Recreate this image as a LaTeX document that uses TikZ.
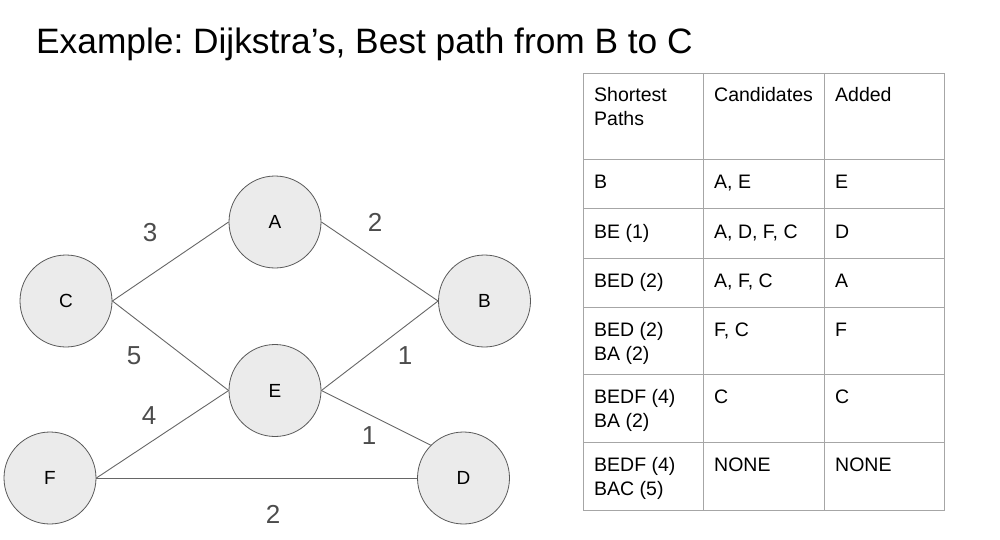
\documentclass[tikz,border=0pt]{standalone}
\usepackage{fontspec}
\setmainfont{Liberation Sans}
\begin{document}
\frenchspacing
\begin{tikzpicture}[x=1pt,y=-1pt,
  vertex/.style={circle, draw=black!65, fill=black!8, line width=0.8pt, minimum size=92pt, inner sep=0pt, font=\fontsize{19}{19}\selectfont},
  edge/.style={draw=black!60, line width=0.9pt},
  weight/.style={text=black!70, font=\fontsize{26}{26}\selectfont, inner sep=0pt},
  grid/.style={draw=black!35, line width=0.9pt},
  cell/.style={anchor=base west, inner sep=0pt, font=\fontsize{19.5}{19.5}\selectfont}
]
\useasboundingbox (0,0) rectangle (1000,540);
\node[anchor=base west, inner sep=0pt, font=\fontsize{35.3}{35.3}\selectfont] (title) at (36,53.5) {Example: Dijkstra’s, Best path from B to C};

% vertices
\node[vertex] (A) at (275,222) {A};
\node[vertex] (B) at (484.5,301) {B};
\node[vertex] (C) at (66,301) {C};
\node[vertex] (E) at (275,390.5) {E};
\node[vertex] (F) at (50,478) {F};
\node[vertex] (D) at (463.5,478) {D};

% edges
\draw[edge] (C.east) -- (A.west);
\draw[edge] (C.east) -- (E.west);
\draw[edge] (A.east) -- (B.west);
\draw[edge] (E.east) -- (B.west);
\draw[edge] (E.east) -- (D.north west);
\draw[edge] (F.east) -- (E.west);
\draw[edge] (F.east) -- (D.west);

% weights
\node[weight] (w1) at (150,233) {3};
\node[weight] (w2) at (375,222) {2};
\node[weight] (w3) at (134,356) {5};
\node[weight] (w4) at (405,356) {1};
\node[weight] (w5) at (149,416) {4};
\node[weight] (w6) at (369,436) {1};
\node[weight] (w7) at (273,514) {2};

% table grid
\draw[grid] (583,73) rectangle (944,510);
\foreach \yy in {159,208,258,307,374,442} \draw[grid] (583,\yy) -- (944,\yy);
\foreach \xx in {703,824} \draw[grid] (\xx,73) -- (\xx,510);

% table text
\node[cell] (h1) at (594,102) {Shortest};
\node[cell] (h1b) at (594,126) {Paths};
\node[cell] (h2) at (714,102) {Candidates};
\node[cell] (h3) at (835,102) {Added};

\node[cell] (r1a) at (594,189) {B};
\node[cell] (r1b) at (714,189) {A, E};
\node[cell] (r1c) at (835,189) {E};

\node[cell] (r2a) at (594,238) {BE (1)};
\node[cell] (r2b) at (714,238) {A, D, F, C};
\node[cell] (r2c) at (835,238) {D};

\node[cell] (r3a) at (594,287) {BED (2)};
\node[cell] (r3b) at (714,287) {A, F, C};
\node[cell] (r3c) at (835,287) {A};

\node[cell] (r4a) at (594,336) {BED (2)};
\node[cell] (r4a2) at (594,360) {BA (2)};
\node[cell] (r4b) at (714,336) {F, C};
\node[cell] (r4c) at (835,336) {F};

\node[cell] (r5a) at (594,403) {BEDF (4)};
\node[cell] (r5a2) at (594,427) {BA (2)};
\node[cell] (r5b) at (714,403) {C};
\node[cell] (r5c) at (835,403) {C};

\node[cell] (r6a) at (594,471) {BEDF (4)};
\node[cell] (r6a2) at (594,495) {BAC (5)};
\node[cell] (r6b) at (714,471) {NONE};
\node[cell] (r6c) at (835,471) {NONE};
\end{tikzpicture}
\end{document}
